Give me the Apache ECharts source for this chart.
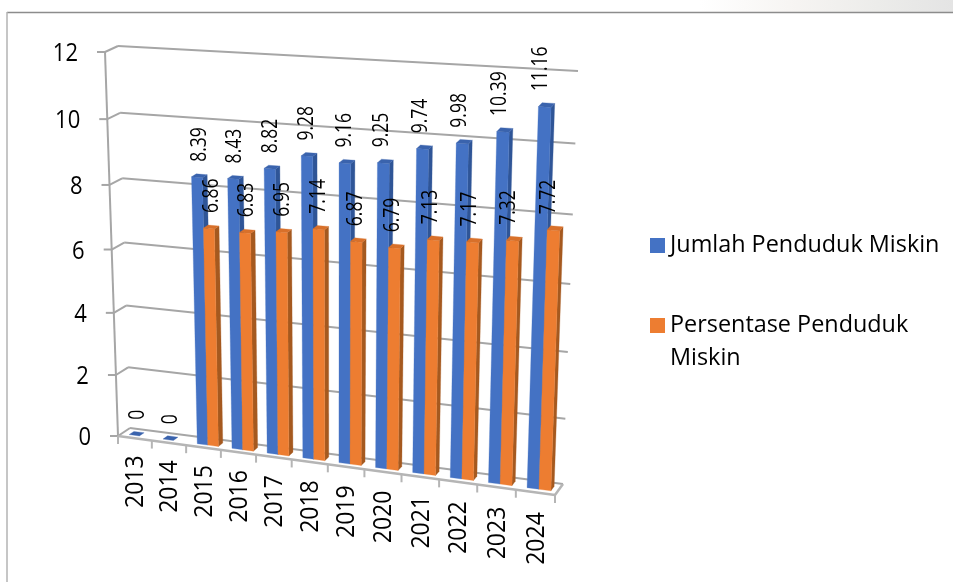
<!DOCTYPE html>
<html>
<head>
<meta charset="utf-8">
<style>html,body{margin:0;padding:0;background:#fff}#c{width:953px;height:582px}</style>
<script src="https://cdn.jsdelivr.net/npm/echarts@6/dist/echarts.min.js"></script>
</head>
<body>
<div id="c"></div>
<script>
const categories = ['2013','2014','2015','2016','2017','2018','2019','2020','2021','2022','2023','2024'];
const jumlah = [0,0,8.39,8.43,8.82,9.28,9.16,9.25,9.74,9.98,10.39,11.16];
const persentase = [null,null,6.86,6.83,6.95,7.14,6.87,6.79,7.13,7.17,7.32,7.72];
const yTicks = [0,2,4,6,8,10,12];
const seriesNames = ['Jumlah Penduduk Miskin','Persentase Penduduk Miskin'];

const FONT = '"Open Sans", sans-serif';
const GRID_COLOR = '#a6a6a6';

// Unit square -> quadrilateral homography (perspective of the 3D box)
function quad(p00, p10, p11, p01) {
  const dx1 = p10[0]-p11[0], dx2 = p01[0]-p11[0], sx = p00[0]-p10[0]+p11[0]-p01[0];
  const dy1 = p10[1]-p11[1], dy2 = p01[1]-p11[1], sy = p00[1]-p10[1]+p11[1]-p01[1];
  const den = dx1*dy2-dx2*dy1;
  const g = (sx*dy2-dx2*sy)/den, h = (dx1*sy-sx*dy1)/den;
  const a = p10[0]-p00[0]+g*p10[0], b = p01[0]-p00[0]+h*p01[0], c = p00[0];
  const d = p10[1]-p00[1]+g*p10[1], e = p01[1]-p00[1]+h*p01[1], f = p00[1];
  return (u,v) => { const w = g*u+h*v+1; return [(a*u+b*v+c)/w,(d*u+e*v+f)/w]; };
}
const backWall  = quad([130,428],[563,484],[578,71],[118,46]);
const frontWall = quad([118,436],[555,495],[569,81],[105,52]);
function project(u,v,d){
  const b = backWall(u,v), f = frontWall(u,v);
  return [f[0]+(b[0]-f[0])*d, f[1]+(b[1]-f[1])*d];
}
const D0 = 0.3, D1 = 0.7;
const BAR_START = 0.225, BAR_W = 0.305;

function norm(api, params, x, y){
  const r = params.coordSys;
  const px = api.coord([x,y]);
  return {u:(px[0]-r.x)/r.width, v:(r.y+r.height-px[1])/r.height, band:api.size([1,0])[0]/r.width};
}
function poly(points, fill){
  return {type:'polygon', shape:{points}, style:{fill, stroke:fill, lineWidth:0.3}};
}
function line(a,b,stroke,w){
  return {type:'line', shape:{x1:a[0],y1:a[1],x2:b[0],y2:b[1]}, style:{stroke, lineWidth:w||2, fill:null}};
}
function barRange(n, slot){
  const u0 = n.u - n.band/2 + n.band*(BAR_START + slot*BAR_W);
  return [u0, u0 + n.band*BAR_W];
}
function barSeries(name, values, slot, front, side, top){
  return {
    type:'custom', name, z:5, silent:true,
    itemStyle:{color:front},
    data: values.map((v,i)=>[i,v]),
    encode:{x:0,y:1},
    renderItem(params, api){
      const val = api.value(1);
      if (isNaN(val)) return null;
      const n = norm(api, params, api.value(0), val);
      const [u0,u1] = barRange(n, slot);
      const v = n.v;
      const children = [];
      if (val > 0) {
        children.push(poly([project(u1,0,D0),project(u1,0,D1),project(u1,v,D1),project(u1,v,D0)], side));
        children.push(poly([project(u0,0,D0),project(u1,0,D0),project(u1,v,D0),project(u0,v,D0)], front));
      }
      children.push(poly([project(u0,v,D0),project(u1,v,D0),project(u1,v,D1),project(u0,v,D1)], top));
      return {type:'group', children};
    }
  };
}
function labelSeries(values, slot){
  return {
    type:'custom', z:10, silent:true,
    data: values.map((v,i)=>[i,v]),
    encode:{x:0,y:1},
    renderItem(params, api){
      const val = api.value(1);
      if (isNaN(val)) return null;
      const n = norm(api, params, api.value(0), val);
      const [u0,u1] = barRange(n, slot);
      const c = project((u0+u1)/2, n.v, 0.5);
      return {type:'text', x:c[0]+2-8*n.u, y:c[1]-14, rotation:Math.PI/2, scaleY:1.2,
        style:{text:String(val), align:'left', verticalAlign:'middle',
               fontSize:17.5, fontFamily:FONT, fill:'#000'}};
    }
  };
}
const wallSeries = {
  type:'custom', z:1, silent:true,
  data: yTicks.map(v=>[0,v]),
  encode:{x:0,y:1},
  renderItem(params, api){
    const val = api.value(1);
    const n = norm(api, params, 0, val);
    const v = n.v;
    const a = project(0,v,0), b = project(0,v,1), c = project(1,v,1);
    const children = [
      line(a,b,GRID_COLOR), line(b,c,GRID_COLOR),
      line(a,[a[0]-8,a[1]],GRID_COLOR),
      {type:'text', x:a[0]-27, y:a[1]+2, scaleY:1.12,
       style:{text:String(val), align:'right', verticalAlign:'middle', fontSize:22, fontFamily:FONT, fill:'#000'}}
    ];
    if (val === 0) {
      children.push(line(project(0,0,0),project(0,1,0),GRID_COLOR));
      children.push(line(project(0,0,0),project(1,0,0),'#b5b5b5',2.5));
      children.push(line(project(1,0,0),project(1,0,1),'#b5b5b5',2.5));
    }
    return {type:'group', children};
  }
};
const categorySeries = {
  type:'custom', z:2, silent:true,
  data: categories.map((c,i)=>[i,0]),
  encode:{x:0,y:1},
  renderItem(params, api){
    const i = api.value(0);
    const n = norm(api, params, i, 0);
    const uL = n.u - n.band/2, uR = n.u + n.band/2;
    const t0 = project(uL,0,0), m = project(n.u,0,0);
    const children = [
      line(t0,[t0[0],t0[1]+8],'#b5b5b5'),
      {type:'text', x:m[0]+1, y:m[1]+17+3*n.u, rotation:Math.PI/2, scaleY:1.12,
       style:{text:categories[i], align:'right', verticalAlign:'middle', fontSize:23, fontFamily:FONT, fill:'#000'}}
    ];
    if (i === categories.length-1) {
      const t1 = project(uR,0,0);
      children.push(line(t1,[t1[0],t1[1]+8],'#b5b5b5'));
    }
    return {type:'group', children};
  }
};

const chart = echarts.init(document.getElementById('c'), null, {renderer:'canvas'});
chart.setOption({
  animation:false,
  backgroundColor:'#fff',
  grid:{left:120, top:50, width:440, height:390},
  xAxis:{type:'category', data:categories, show:false},
  yAxis:{type:'value', min:0, max:12, interval:2, show:false},
  legend:{
    orient:'vertical', left:650, top:229, padding:0, itemGap:14, itemWidth:15, itemHeight:15,
    icon:'rect', selectedMode:false, data:seriesNames,
    formatter: n => n === seriesNames[1] ? '\nPersentase Penduduk\nMiskin' : n,
    textStyle:{fontSize:23.4, fontFamily:FONT, color:'#000', lineHeight:33}
  },
  graphic:[
    {type:'rect', z:0, shape:{x:700,y:0,width:253,height:12},
     style:{fill:new echarts.graphic.LinearGradient(0,0,1,0,[
       {offset:0,color:'#ffffff'},{offset:0.35,color:'#f7f5f3'},{offset:0.7,color:'#ececea'},{offset:1,color:'#e4e4e4'}])}},
    {type:'line', z:0, shape:{x1:7,y1:12.5,x2:953,y2:12.5}, style:{stroke:'#8c8c8c',lineWidth:1.5}},
    {type:'line', z:0, shape:{x1:7,y1:12,x2:7,y2:582}, style:{stroke:'#b3b3b3',lineWidth:1.5}}
  ],
  series:[
    wallSeries, categorySeries,
    barSeries(seriesNames[0], jumlah, 0, '#4472c4', '#2f5597', '#3a63ad'),
    barSeries(seriesNames[1], persentase, 1, '#ed7d31', '#a5591f', '#d8702a'),
    labelSeries(jumlah, 0), labelSeries(persentase, 1)
  ]
});
</script>
</body>
</html>
